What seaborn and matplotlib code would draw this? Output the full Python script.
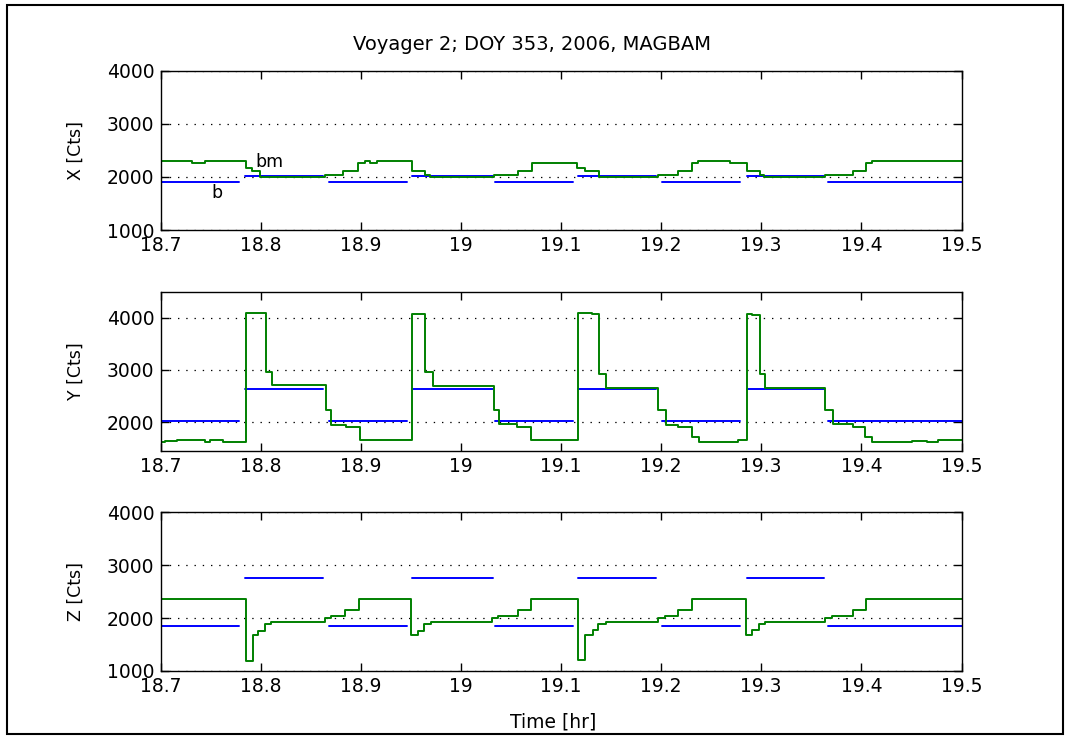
import numpy as np
import pandas as pd
import matplotlib
matplotlib.use("Agg")
import matplotlib.pyplot as plt
import seaborn as sns
from matplotlib.patches import Rectangle

T_START, T_END = 18.7, 19.5

# ---- bm (green): step change times [hr] and counts held until the next change ----
x_bm_t = [18.700, 18.731, 18.7445, 18.7854, 18.7915, 18.799, 18.8643, 18.8826, 18.8976,
          18.9043, 18.9093, 18.916, 18.951, 18.9643, 18.9693, 19.033, 19.0575, 19.0708,
          19.1158, 19.124, 19.1384, 19.1973, 19.2173, 19.2306, 19.2373, 19.269, 19.2856,
          19.2989, 19.3029, 19.3638, 19.392, 19.405, 19.4105]
x_bm_v = [2296, 2253, 2296, 2170, 2108, 2000, 2045, 2108, 2264,
          2296, 2264, 2296, 2108, 2045, 2000, 2045, 2108, 2264,
          2170, 2108, 2000, 2045, 2108, 2264, 2296, 2264, 2108,
          2045, 2000, 2045, 2108, 2264, 2296]

y_bm_t = [18.700, 18.7045, 18.7162, 18.7445, 18.7495, 18.7627, 18.7854, 18.8054, 18.811,
          18.865, 18.8703, 18.8853, 18.899, 18.951, 18.9643, 18.972, 19.033, 19.0385,
          19.0559, 19.0698, 19.1174, 19.124, 19.131, 19.1384, 19.145, 19.1973, 19.205,
          19.2173, 19.2306, 19.2383, 19.277, 19.2856, 19.291, 19.2983, 19.3039, 19.3638,
          19.3715, 19.392, 19.4038, 19.4105, 19.4504, 19.4655, 19.477]
y_bm_v = [1617, 1640, 1662, 1617, 1662, 1617, 4100, 2960, 2705,
          2237, 1937, 1905, 1662, 4077, 2960, 2685, 2237, 1955,
          1905, 1662, 4100, 4090, 4070, 2913, 2660, 2237, 1937,
          1905, 1713, 1617, 1662, 4077, 4060, 2913, 2660, 2237,
          1955, 1905, 1713, 1617, 1640, 1617, 1650]

z_bm_t = [18.700, 18.785, 18.792, 18.7977, 18.8044, 18.8104, 18.8643, 18.870, 18.8843,
          18.8983, 18.950, 18.9575, 18.9632, 18.970, 19.0309, 19.0375, 19.0575, 19.0698,
          19.1174, 19.124, 19.1318, 19.1374, 19.145, 19.1973, 19.204, 19.2173, 19.2313,
          19.2849, 19.2912, 19.2982, 19.3039, 19.3638, 19.3705, 19.3921, 19.405]
z_bm_v = [2360, 1184, 1677, 1753, 1880, 1930, 2006, 2038, 2152,
          2360, 1677, 1753, 1880, 1930, 2006, 2038, 2152, 2360,
          1215, 1677, 1780, 1880, 1930, 2006, 2038, 2152, 2360,
          1677, 1780, 1880, 1930, 2006, 2038, 2152, 2360]

# ---- b (blue): constant segments (start, end) [hr] and counts ----
b_start = [18.700, 18.7845, 18.868, 18.951, 19.034, 19.117, 19.2005, 19.2855, 19.367]
b_end   = [18.778, 18.862, 18.946, 19.032, 19.112, 19.195, 19.279, 19.363, 19.500]
x_b_v = [1910, 2008, 1910, 2008, 1910, 2008, 1910, 2008, 1910]
y_b_v = [2015, 2640, 2015, 2640, 2015, 2640, 2015, 2640, 2015]
z_b_v = [1860, 2750, 1860, 2750, 1860, 2750, 1860, 2750, 1860]

x_ticks = [18.7, 18.8, 18.9, 19.0, 19.1, 19.2, 19.3, 19.4, 19.5]
x_tick_labels = ["18.7", "18.8", "18.9", "19", "19.1", "19.2", "19.3", "19.4", "19.5"]

panels = [
    ("X [Cts]", x_bm_t, x_bm_v, x_b_v, (1000, 4000), [1000, 2000, 3000, 4000]),
    ("Y [Cts]", y_bm_t, y_bm_v, y_b_v, (1450, 4500), [2000, 3000, 4000]),
    ("Z [Cts]", z_bm_t, z_bm_v, z_b_v, (1000, 4000), [1000, 2000, 3000, 4000]),
]

GREEN = "#008000"
BLUE = "#0000ff"

sns.set_style("ticks", {"xtick.direction": "in", "ytick.direction": "in"})
plt.rcParams["font.family"] = ["DejaVu Sans"]
plt.rcParams["text.color"] = "black"
plt.rcParams["axes.labelcolor"] = "black"
plt.rcParams["xtick.color"] = "black"
plt.rcParams["ytick.color"] = "black"

fig = plt.figure(figsize=(10.70, 7.36), dpi=100)
W, H = 1070.0, 736.0
ax_left, ax_right = 160.5, 961.5
ax_rows = [(70.7, 230.0), (291.7, 450.7), (512.3, 671.0)]

axes = []
for (top, bottom) in ax_rows:
    ax = fig.add_axes([ax_left / W, 1 - bottom / H, (ax_right - ax_left) / W, (bottom - top) / H])
    axes.append(ax)

for ax, (label, bm_t, bm_v, b_v, ylim, yticks) in zip(axes, panels):
    seg_rows = []
    for i, (s, e, v) in enumerate(zip(b_start, b_end, b_v)):
        seg_rows.append({"seg": i, "t": s, "v": v})
        seg_rows.append({"seg": i, "t": e, "v": v})
    b_df = pd.DataFrame(seg_rows)
    bm_df = pd.DataFrame({"t": list(bm_t) + [T_END], "v": list(bm_v) + [bm_v[-1]]})

    sns.lineplot(data=b_df, x="t", y="v", units="seg", estimator=None,
                 color=BLUE, lw=1.4, ax=ax)
    sns.lineplot(data=bm_df, x="t", y="v", estimator=None, sort=False,
                 drawstyle="steps-post", color=GREEN, lw=1.4, ax=ax)

    ax.set_xlim(T_START, T_END)
    ax.set_ylim(*ylim)
    ax.set_xticks(x_ticks)
    ax.set_xticklabels(x_tick_labels)
    ax.set_yticks(yticks)
    ax.set_yticklabels([str(v) for v in yticks])
    ax.grid(axis="y", color="black", lw=0.9, linestyle=(0, (1.1, 5.5)))
    ax.grid(axis="x", visible=False)
    ax.tick_params(axis="both", which="major", direction="in", length=5.5, width=1.0,
                   top=True, right=True, labelsize=13.5, pad=4.5)
    for sp in ax.spines.values():
        sp.set_visible(True)
        sp.set_linewidth(1.0)
        sp.set_color("black")
    ax.set_xlabel("")
    ax.set_ylabel(label, fontsize=12.5)
    ax.yaxis.set_label_coords(-0.095, 0.5)

axes[0].text(18.8084, 2183, "bm", ha="center", va="baseline", fontsize=12.5)
axes[0].text(18.7561, 1604, "b", ha="center", va="baseline", fontsize=12.5)

fig.text(532 / W, 1 - 49.5 / H, "Voyager 2; DOY 353, 2006, MAGBAM",
         ha="center", va="baseline", fontsize=14)

axes[2].set_xlabel("Time [hr]", fontsize=13.5)
axes[2].xaxis.set_label_coords((553 - ax_left) / (ax_right - ax_left), (671 - 728) / (671 - 512.3))
axes[2].xaxis.label.set_verticalalignment("baseline")

fig.add_artist(Rectangle((7 / W, 1 - 734 / H), (1063 - 7) / W, (734 - 5) / H,
                         transform=fig.transFigure, fill=False, ec="black", lw=1.5))

fig.savefig("out.png", dpi=100, facecolor="white")
